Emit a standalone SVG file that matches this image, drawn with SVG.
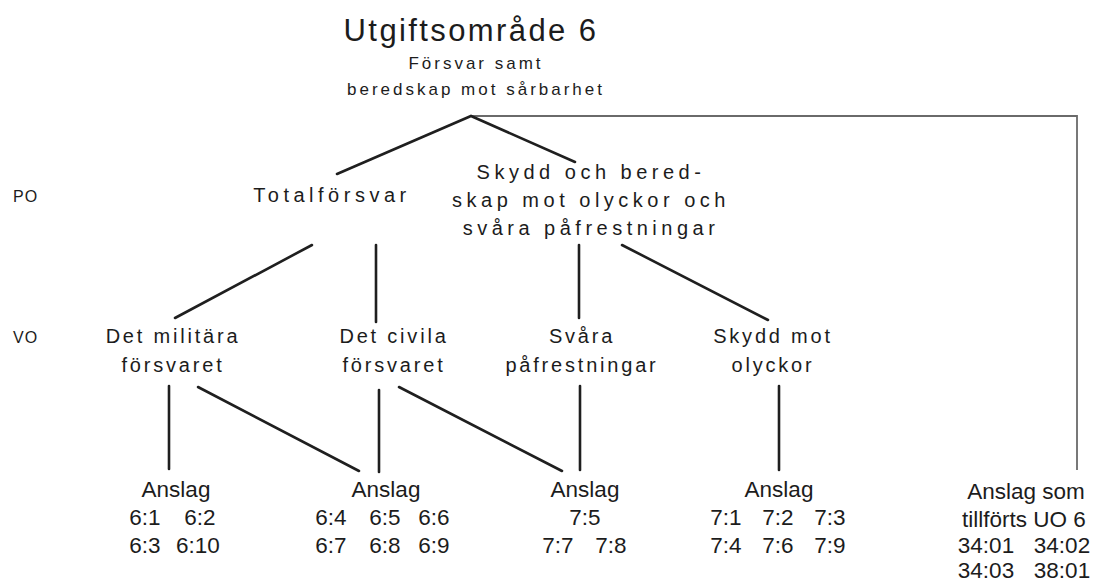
<svg xmlns="http://www.w3.org/2000/svg" width="1094" height="585" viewBox="0 0 1094 585">
<style>
text{font-family:"Liberation Sans",Arial,sans-serif;fill:#1c1c1c;text-anchor:middle}
.title{font-size:31px;letter-spacing:2.4px}
.sub{font-size:17px;letter-spacing:3px}
.po{font-size:20px;letter-spacing:4.5px}
.vo{font-size:20px;letter-spacing:2.8px}
.lvl{font-size:16px;text-anchor:start;letter-spacing:1px}
.an{font-size:22.5px}
.c{fill:none;stroke:#1f1f1f;stroke-width:2.6;stroke-linecap:round}
.g{fill:none;stroke:#6a6a6a;stroke-width:1.8}
</style>
<g id="connectors">
<path class="g" d="M471 116 H1077 V470"/>
<path class="c" d="M337 174 L471 116 L575 162"/>
<path class="c" d="M312 245 L175 318"/>
<path class="c" d="M376 245 V322"/>
<path class="c" d="M579 245 V318"/>
<path class="c" d="M622 245 L768 320"/>
<path class="c" d="M169 386 V469"/>
<path class="c" d="M198 387 L359 471"/>
<path class="c" d="M379 390 V472"/>
<path class="c" d="M399 387 L562 471"/>
<path class="c" d="M580 386 V470"/>
<path class="c" d="M779 386 V470"/>
</g>
<g id="root">
<text class="title" x="471" y="41">Utgiftsområde 6</text>
<text class="sub" x="476" y="69">Försvar samt</text>
<text class="sub" x="476" y="95">beredskap mot sårbarhet</text>
</g>
<g id="label-po"><text class="lvl" x="13" y="202">PO</text></g>
<g id="label-vo"><text class="lvl" x="13" y="343">VO</text></g>
<g id="totalforsvar"><text class="po" x="332" y="202">Totalförsvar</text></g>
<g id="skydd">
<text class="po" x="591" y="179">Skydd och bered-</text>
<text class="po" x="591" y="207">skap mot olyckor och</text>
<text class="po" x="591" y="235">svåra påfrestningar</text>
</g>
<g id="militara">
<text class="vo" x="173" y="343">Det militära</text>
<text class="vo" x="173" y="372">försvaret</text>
</g>
<g id="civila">
<text class="vo" x="394" y="343">Det civila</text>
<text class="vo" x="394" y="372">försvaret</text>
</g>
<g id="svara">
<text class="vo" x="582" y="343">Svåra</text>
<text class="vo" x="582" y="372">påfrestningar</text>
</g>
<g id="skyddmot">
<text class="vo" x="773" y="343">Skydd mot</text>
<text class="vo" x="773" y="372">olyckor</text>
</g>
<g id="anslag1">
<text class="an" x="176" y="497">Anslag</text>
<text class="an" x="145" y="525">6:1</text><text class="an" x="200" y="525">6:2</text>
<text class="an" x="145" y="553">6:3</text><text class="an" x="198" y="553">6:10</text>
</g>
<g id="anslag2">
<text class="an" x="386" y="497">Anslag</text>
<text class="an" x="331" y="525">6:4</text><text class="an" x="385" y="525">6:5</text><text class="an" x="434" y="525">6:6</text>
<text class="an" x="331" y="553">6:7</text><text class="an" x="385" y="553">6:8</text><text class="an" x="434" y="553">6:9</text>
</g>
<g id="anslag3">
<text class="an" x="585" y="497">Anslag</text>
<text class="an" x="585" y="525">7:5</text>
<text class="an" x="558" y="553">7:7</text><text class="an" x="611" y="553">7:8</text>
</g>
<g id="anslag4">
<text class="an" x="779" y="497">Anslag</text>
<text class="an" x="726" y="525">7:1</text><text class="an" x="778" y="525">7:2</text><text class="an" x="830" y="525">7:3</text>
<text class="an" x="726" y="553">7:4</text><text class="an" x="778" y="553">7:6</text><text class="an" x="830" y="553">7:9</text>
</g>
<g id="anslag-uo6">
<text class="an" x="1026" y="499">Anslag som</text>
<text class="an" x="1024" y="527">tillförts UO 6</text>
<text class="an" x="986" y="553">34:01</text><text class="an" x="1062" y="553">34:02</text>
<text class="an" x="986" y="578">34:03</text><text class="an" x="1062" y="578">38:01</text>
</g>
</svg>
